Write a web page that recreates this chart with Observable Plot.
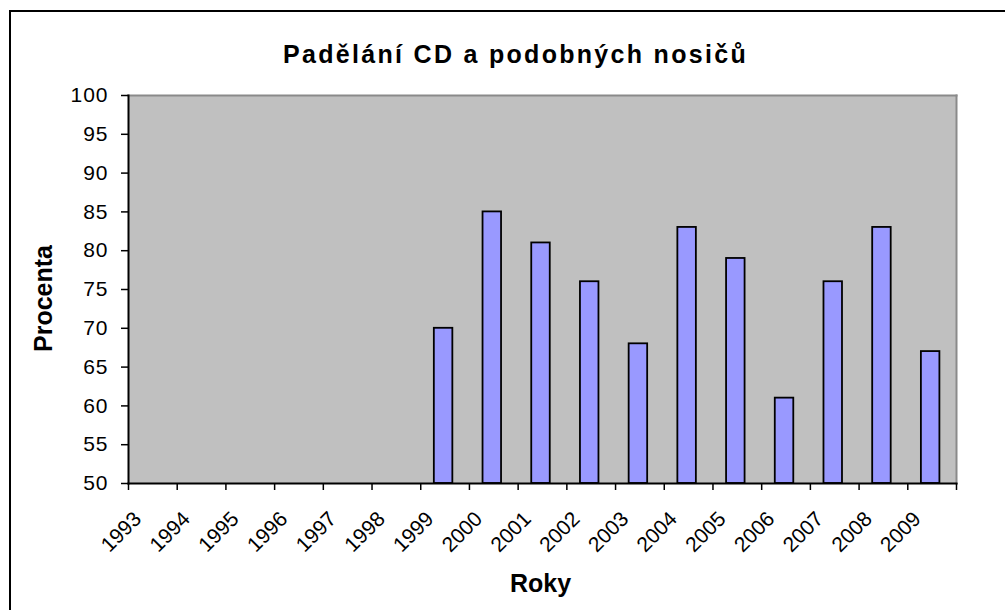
<!DOCTYPE html>
<html><head><meta charset="utf-8">
<script src="https://cdn.jsdelivr.net/npm/d3@7"></script>
<script src="https://cdn.jsdelivr.net/npm/@observablehq/plot@0.6"></script>
<style>
body{margin:0;background:#fff;overflow:hidden}
#wrap{position:relative;width:1005px;height:610px;overflow:hidden}
#border{position:absolute;left:9px;top:10px;width:1100px;height:700px;border-left:2px solid #000;border-top:2px solid #000;pointer-events:none}
svg{position:absolute;left:0;top:0}
</style></head><body><div id="wrap"><div id="border"></div></div>
<script>
const title = "Padělání CD a podobných nosičů";
const xLabel = "Roky";
const yLabel = "Procenta";
const years = ["1993","1994","1995","1996","1997","1998","1999","2000","2001","2002","2003","2004","2005","2006","2007","2008","2009"];
const values = [null,null,null,null,null,null,70,85,81,76,68,83,79,61,76,83,67];
const yTicks = [50,55,60,65,70,75,80,85,90,95,100];

const data = years.map((year, i) => ({year, value: values[i]})).filter(d => d.value != null);
const yMin = yTicks[0], yMax = yTicks[yTicks.length - 1];

const W = 1005, H = 610, mL = 128, mR = 49, mT = 95, mB = 127;
const step = (W - mL - mR) / years.length;
const font = "'Liberation Sans', Arial, sans-serif";

const chart = Plot.plot({
  width: W, height: H,
  marginLeft: mL, marginRight: mR, marginTop: mT, marginBottom: mB,
  style: {fontFamily: font, background: "transparent", overflow: "visible", color: "#000"},
  x: {type: "band", domain: years, paddingInner: 0.62, paddingOuter: 0.31, round: false, axis: null},
  y: {domain: [yMin, yMax], axis: null},
  marks: [
    Plot.frame({fill: "#C0C0C0", stroke: null}),
    Plot.frame({anchor: "top", stroke: "#8a8a8a", strokeWidth: 2}),
    Plot.frame({anchor: "right", stroke: "#8a8a8a", strokeWidth: 2}),
    Plot.barY(data, {x: "year", y1: yMin, y2: "value", dx: -1.5, fill: "#9999FF", stroke: "#000", strokeWidth: 1.8}),
    Plot.frame({anchor: "left", stroke: "#000", strokeWidth: 2}),
    Plot.frame({anchor: "bottom", stroke: "#000", strokeWidth: 2}),
    Plot.axisY({ticks: yTicks, label: null, tickSize: 7, tickFormat: () => "", strokeWidth: 1.5}),
    Plot.text(yTicks, {y: d => d, frameAnchor: "left", dx: -20, textAnchor: "end", lineAnchor: "middle", fontSize: 21, className: "ytl"}),
    Plot.axisX({ticks: years, label: null, tickSize: 7, tickFormat: () => "", dx: -step / 2, strokeWidth: 1.5}),
    Plot.axisX({ticks: [years[years.length - 1]], label: null, tickSize: 7, tickFormat: () => "", dx: step / 2, strokeWidth: 1.5}),
    Plot.text(years, {x: d => d, frameAnchor: "bottom", dx: -15, dy: 32, rotate: -45, textAnchor: "end", lineAnchor: "middle", fontSize: 21}),
    Plot.text([title], {frameAnchor: "top", dx: -27, dy: -41, fontSize: 25, fontWeight: "bold", textAnchor: "middle", lineAnchor: "middle", className: "ttl"}),
    Plot.text([yLabel], {frameAnchor: "left", dx: -85, dy: 9, rotate: -90, fontSize: 25, fontWeight: "bold", textAnchor: "middle", lineAnchor: "middle"}),
    Plot.text([xLabel], {frameAnchor: "bottom", dx: -2, dy: 100, fontSize: 25, fontWeight: "bold", textAnchor: "middle", lineAnchor: "middle"})
  ]
});
chart.querySelectorAll(".ttl text").forEach(t => t.setAttribute("letter-spacing", "2.3"));
chart.querySelectorAll(".ytl text").forEach(t => t.setAttribute("letter-spacing", "1"));
document.getElementById("wrap").prepend(chart);
</script></body></html>
